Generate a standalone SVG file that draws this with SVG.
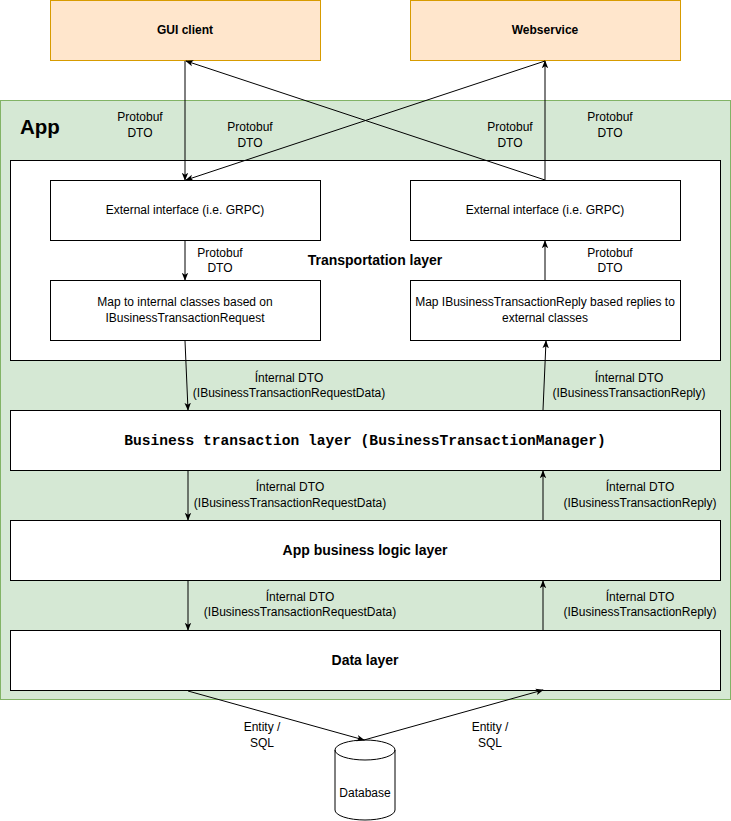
<svg xmlns="http://www.w3.org/2000/svg" width="731" height="821" viewBox="0 0 731 821">
<style>
.box{fill:#fff;stroke:#000;stroke-width:1}
.ext{fill:#ffe6cc;stroke:#d79b00;stroke-width:1}
text{font-family:"Liberation Sans",Arial,sans-serif;font-size:12px;fill:#000;text-anchor:middle}
.b{font-weight:bold}
.t{font-weight:bold;font-size:14px}
.lbl{font-size:12px}
.mono{font-family:"Liberation Mono","DejaVu Sans Mono",monospace;font-weight:bold;font-size:14.6px}
.edge{fill:none;stroke:#000;stroke-width:1;marker-end:url(#arr)}
</style>
<defs>
<marker id="arr" viewBox="0 0 10 10" refX="9" refY="5" markerWidth="8" markerHeight="8" markerUnits="userSpaceOnUse" orient="auto">
<path d="M0,1 L10,5 L0,9 L2.5,5 Z" fill="#000"/>
</marker>
</defs>
<g id="app">
<rect x="0.5" y="100.5" width="730" height="599" fill="#d5e8d4" stroke="#82b366"/>
<text x="20" y="134" class="b" style="font-size:20.5px;text-anchor:start">App</text>
</g>
<g id="gui"><rect class="ext" x="50.5" y="0.5" width="270" height="60"/><text x="185" y="34" class="b">GUI client</text></g>
<g id="webservice"><rect class="ext" x="410.5" y="0.5" width="270" height="60"/><text x="545" y="34" class="b">Webservice</text></g>
<g id="transport"><rect class="box" x="10.5" y="160.5" width="710" height="200"/><text x="375" y="265" class="t">Transportation layer</text></g>
<g id="extL"><rect class="box" x="50.5" y="180.5" width="270" height="60"/><text x="185" y="214">External interface (i.e. GRPC)</text></g>
<g id="extR"><rect class="box" x="410.5" y="180.5" width="270" height="60"/><text x="545" y="214">External interface (i.e. GRPC)</text></g>
<g id="mapL"><rect class="box" x="50.5" y="280.5" width="270" height="60"/><text x="185" y="306">Map to internal classes based on</text><text x="185" y="322">IBusinessTransactionRequest</text></g>
<g id="mapR"><rect class="box" x="410.5" y="280.5" width="270" height="60"/><text x="545" y="306">Map IBusinessTransactionReply based replies to</text><text x="545" y="322">external classes</text></g>
<g id="business"><rect class="box" x="10.5" y="410.5" width="710" height="60"/><text x="365" y="445" class="mono">Business transaction layer (BusinessTransactionManager)</text></g>
<g id="logic"><rect class="box" x="10.5" y="520.5" width="710" height="60"/><text x="365" y="555" class="t">App business logic layer</text></g>
<g id="data"><rect class="box" x="10.5" y="630.5" width="710" height="60"/><text x="365" y="665" class="t">Data layer</text></g>
<g id="database">
<path d="M335,750 A30,10 0 0 1 395,750 L395,810 A30,10 0 0 1 335,810 Z" fill="#fff" stroke="#000"/>
<path d="M335,750 A30,10 0 0 0 395,750" fill="none" stroke="#000"/>
<text x="365" y="797">Database</text>
</g>
<g id="connectors">
<line class="edge" x1="185" y1="61" x2="185" y2="180"/>
<line class="edge" x1="545" y1="61" x2="186" y2="180"/>
<line class="edge" x1="545" y1="180" x2="186" y2="61"/>
<line class="edge" x1="545" y1="180" x2="545" y2="61"/>
<line class="edge" x1="185" y1="241" x2="185" y2="280"/>
<line class="edge" x1="545" y1="280" x2="545" y2="241"/>
<line class="edge" x1="185" y1="341" x2="188" y2="410"/>
<line class="edge" x1="543" y1="410" x2="546" y2="341"/>
<line class="edge" x1="188" y1="471" x2="188" y2="520"/>
<line class="edge" x1="543" y1="520" x2="543" y2="471"/>
<line class="edge" x1="188" y1="581" x2="188" y2="630"/>
<line class="edge" x1="543" y1="630" x2="543" y2="581"/>
<line class="edge" x1="188" y1="691" x2="364" y2="740"/>
<line class="edge" x1="364" y1="740" x2="543" y2="690"/>
</g>
<g id="labels" class="lbl">
<text x="140" y="121">Protobuf</text><text x="140" y="137">DTO</text>
<text x="250" y="131">Protobuf</text><text x="250" y="147">DTO</text>
<text x="510" y="131">Protobuf</text><text x="510" y="147">DTO</text>
<text x="610" y="121">Protobuf</text><text x="610" y="137">DTO</text>
<text x="220" y="257">Protobuf</text><text x="220" y="272">DTO</text>
<text x="610" y="257">Protobuf</text><text x="610" y="272">DTO</text>
<text x="289" y="382">Ínternal DTO</text><text x="289" y="397">(IBusinessTransactionRequestData)</text>
<text x="629" y="382">Ínternal DTO</text><text x="629" y="397">(IBusinessTransactionReply)</text>
<text x="290" y="491">Ínternal DTO</text><text x="290" y="507">(IBusinessTransactionRequestData)</text>
<text x="640" y="491">Ínternal DTO</text><text x="640" y="507">(IBusinessTransactionReply)</text>
<text x="300" y="601">Ínternal DTO</text><text x="300" y="616">(IBusinessTransactionRequestData)</text>
<text x="640" y="601">Ínternal DTO</text><text x="640" y="616">(IBusinessTransactionReply)</text>
<text x="262" y="731">Entity /</text><text x="262" y="747">SQL</text>
<text x="490" y="731">Entity /</text><text x="490" y="747">SQL</text>
</g>
</svg>
